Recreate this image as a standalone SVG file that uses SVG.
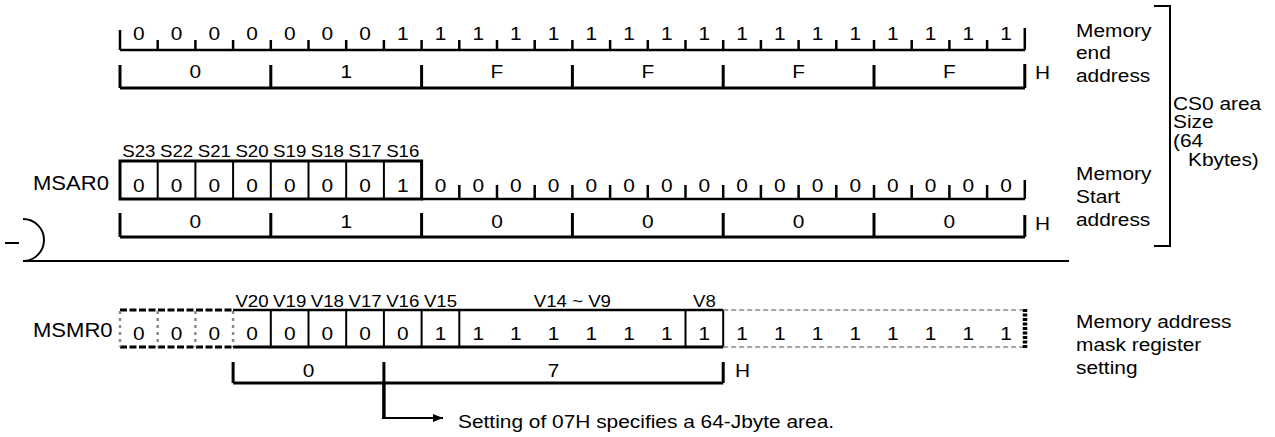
<svg xmlns="http://www.w3.org/2000/svg" width="1275" height="437" viewBox="0 0 1275 437">
<style>
text { font-family: "Liberation Sans", Arial, sans-serif; fill: #000; font-size: 18.5px; transform-box: fill-box; }
.m { text-anchor: middle; transform-origin: center; transform: scaleX(1.13); }
.s { text-anchor: start; transform-origin: left center; transform: scaleX(1.13); }
.lab { font-size: 16.5px; }
.reg { font-size: 19.5px; }
.ln { stroke: #000; fill: none; }
.w2 { stroke-width: 2; }
.w25 { stroke-width: 2.5; }
.w3 { stroke-width: 3; }
.dblk { stroke: #000; stroke-width: 3; stroke-dasharray: 7 2.5; fill: none; }
.dgv { stroke: #8a8a8a; stroke-width: 2.5; stroke-dasharray: 3 4; fill: none; }
.dgh { stroke: #888; stroke-width: 1.5; stroke-dasharray: 5 3; fill: none; }
.dend { stroke: #000; stroke-width: 4.5; stroke-dasharray: 3 1.5; fill: none; }
</style>
<defs>
<marker id="ah" viewBox="0 0 10 8" refX="10" refY="4" markerWidth="5" markerHeight="4" markerUnits="strokeWidth" orient="auto">
<path d="M0,0 L10,4 L0,8 z" fill="#000"/>
</marker>
</defs>

<g id="end-address">
<path class="ln w25" d="M120,50 H1025 M120,30 V50 M1024.8,28 V50
M157.7,40 V50 M195.4,40 V50 M233.1,40 V50 M270.8,40 V50 M308.5,40 V50 M346.2,40 V50 M383.9,40 V50 M421.6,40 V50 M459.3,40 V50 M497,40 V50 M534.7,40 V50 M572.4,40 V50 M610.1,40 V50 M647.8,40 V50 M685.5,40 V50 M723.2,40 V50 M760.9,40 V50 M798.6,40 V50 M836.3,40 V50 M874,40 V50 M911.7,40 V50 M949.4,40 V50 M987.1,40 V50"/>
<g>
<text class="m" x="138.9" y="40">0</text><text class="m" x="176.6" y="40">0</text><text class="m" x="214.3" y="40">0</text><text class="m" x="252" y="40">0</text><text class="m" x="289.7" y="40">0</text><text class="m" x="327.4" y="40">0</text><text class="m" x="365.1" y="40">0</text><text class="m" x="402.8" y="40">1</text><text class="m" x="440.5" y="40">1</text><text class="m" x="478.2" y="40">1</text><text class="m" x="515.9" y="40">1</text><text class="m" x="553.6" y="40">1</text><text class="m" x="591.3" y="40">1</text><text class="m" x="629" y="40">1</text><text class="m" x="666.7" y="40">1</text><text class="m" x="704.4" y="40">1</text><text class="m" x="742.1" y="40">1</text><text class="m" x="779.8" y="40">1</text><text class="m" x="817.5" y="40">1</text><text class="m" x="855.2" y="40">1</text><text class="m" x="892.9" y="40">1</text><text class="m" x="930.6" y="40">1</text><text class="m" x="968.3" y="40">1</text><text class="m" x="1006" y="40">1</text>
</g>
<path class="ln w3" d="M120,88 H1025 M120,65 V88 M270.8,65 V88 M421.6,65 V88 M572.4,65 V88 M723.2,65 V88 M874,65 V88 M1024.8,64 V88"/>
<text class="m" x="195.4" y="78">0</text><text class="m" x="346.2" y="78">1</text><text class="m" x="497" y="78">F</text><text class="m" x="647.8" y="78">F</text><text class="m" x="798.6" y="78">F</text><text class="m" x="949.4" y="78">F</text>
<text class="s" x="1035" y="79">H</text>
<text class="s" x="1076" y="37">Memory</text>
<text class="s" x="1076" y="59.5">end</text>
<text class="s" x="1076" y="82">address</text>
</g>

<g id="msar0">
<text class="s reg" x="33" y="190.5">MSAR0</text>
<text class="m lab" x="138.9" y="157">S23</text><text class="m lab" x="176.6" y="157">S22</text><text class="m lab" x="214.3" y="157">S21</text><text class="m lab" x="252" y="157">S20</text><text class="m lab" x="289.7" y="157">S19</text><text class="m lab" x="327.4" y="157">S18</text><text class="m lab" x="365.1" y="157">S17</text><text class="m lab" x="402.8" y="157">S16</text>
<rect class="ln w3" x="120" y="161" width="301.6" height="38"/>
<path class="ln w2" d="M157.7,161 V199 M195.4,161 V199 M233.1,161 V199 M270.8,161 V199 M308.5,161 V199 M346.2,161 V199 M383.9,161 V199"/>
<path class="ln w25" d="M421.6,199 H1025 M1024.8,180 V199
M459.3,185 V199 M497,185 V199 M534.7,185 V199 M572.4,185 V199 M610.1,185 V199 M647.8,185 V199 M685.5,185 V199 M723.2,185 V199 M760.9,185 V199 M798.6,185 V199 M836.3,185 V199 M874,185 V199 M911.7,185 V199 M949.4,185 V199 M987.1,185 V199"/>
<text class="m" x="138.9" y="192">0</text><text class="m" x="176.6" y="192">0</text><text class="m" x="214.3" y="192">0</text><text class="m" x="252" y="192">0</text><text class="m" x="289.7" y="192">0</text><text class="m" x="327.4" y="192">0</text><text class="m" x="365.1" y="192">0</text><text class="m" x="402.8" y="192">1</text><text class="m" x="440.5" y="192">0</text><text class="m" x="478.2" y="192">0</text><text class="m" x="515.9" y="192">0</text><text class="m" x="553.6" y="192">0</text><text class="m" x="591.3" y="192">0</text><text class="m" x="629" y="192">0</text><text class="m" x="666.7" y="192">0</text><text class="m" x="704.4" y="192">0</text><text class="m" x="742.1" y="192">0</text><text class="m" x="779.8" y="192">0</text><text class="m" x="817.5" y="192">0</text><text class="m" x="855.2" y="192">0</text><text class="m" x="892.9" y="192">0</text><text class="m" x="930.6" y="192">0</text><text class="m" x="968.3" y="192">0</text><text class="m" x="1006" y="192">0</text>
<path class="ln w3" d="M120,237 H1025 M120,213 V237 M270.8,213 V237 M421.6,213 V237 M572.4,213 V237 M723.2,213 V237 M874,213 V237 M1024.8,215 V237"/>
<text class="m" x="195.4" y="228">0</text><text class="m" x="346.2" y="228">1</text><text class="m" x="497" y="228">0</text><text class="m" x="647.8" y="228">0</text><text class="m" x="798.6" y="228">0</text><text class="m" x="949.4" y="228">0</text>
<text class="s" x="1035" y="230">H</text>
<text class="s" x="1076" y="180">Memory</text>
<text class="s" x="1076" y="203">Start</text>
<text class="s" x="1076" y="226">address</text>
</g>

<g id="cs0-size">
<text class="s" x="1173" y="110">CS0 area</text>
<text class="s" x="1173" y="128.5">Size</text>
<text class="s" x="1173" y="147">(64</text>
<text class="s" x="1188" y="166">Kbytes)</text>
</g>

<g id="msmr0">
<text class="s reg" x="33" y="337">MSMR0</text>
<text class="m lab" x="252" y="307">V20</text><text class="m lab" x="289.7" y="307">V19</text><text class="m lab" x="327.4" y="307">V18</text><text class="m lab" x="365.1" y="307">V17</text><text class="m lab" x="402.8" y="307">V16</text><text class="m lab" x="440.5" y="307">V15</text><text class="m lab" x="572.4" y="307">V14 ~ V9</text><text class="m lab" x="704.4" y="307">V8</text>
<path class="dblk" d="M120,310 H233.1 M120,347 H233.1"/>
<path class="dgv" d="M120,311 V347 M157.7,311 V347 M195.4,311 V347 M233.1,311 V347"/>
<path class="ln w25" d="M233.1,310 H723.2"/>
<path class="ln w3" d="M233.1,347 H723.2"/>
<path class="ln w2" d="M270.8,310 V347 M308.5,310 V347 M346.2,310 V347 M383.9,310 V347 M421.6,310 V347 M459.3,310 V347 M685.5,310 V347 M723.2,310 V347"/>
<path class="dgh" d="M723.2,310 H1025 M723.2,347 H1025"/>
<path class="dend" d="M1025,309 V348"/>
<text class="m" x="138.9" y="340">0</text><text class="m" x="176.6" y="340">0</text><text class="m" x="214.3" y="340">0</text><text class="m" x="252" y="340">0</text><text class="m" x="289.7" y="340">0</text><text class="m" x="327.4" y="340">0</text><text class="m" x="365.1" y="340">0</text><text class="m" x="402.8" y="340">0</text><text class="m" x="440.5" y="340">1</text><text class="m" x="478.2" y="340">1</text><text class="m" x="515.9" y="340">1</text><text class="m" x="553.6" y="340">1</text><text class="m" x="591.3" y="340">1</text><text class="m" x="629" y="340">1</text><text class="m" x="666.7" y="340">1</text><text class="m" x="704.4" y="340">1</text><text class="m" x="742.1" y="340">1</text><text class="m" x="779.8" y="340">1</text><text class="m" x="817.5" y="340">1</text><text class="m" x="855.2" y="340">1</text><text class="m" x="892.9" y="340">1</text><text class="m" x="930.6" y="340">1</text><text class="m" x="968.3" y="340">1</text><text class="m" x="1006" y="340">1</text>
<path class="ln w3" d="M233.1,383 H723.2 M233.1,362 V383 M383.9,362 V383 M723.2,362 V383"/>
<text class="m" x="308.5" y="377">0</text><text class="m" x="553.6" y="377">7</text>
<text class="s" x="735" y="377">H</text>
<text class="s" x="1076" y="328">Memory address</text>
<text class="s" x="1076" y="351">mask register</text>
<text class="s" x="1076" y="374">setting</text>
</g>

<g id="note">
<text class="s" x="458" y="428">Setting of 07H specifies a 64-Jbyte area.</text>
</g>

<g id="connectors">
<path class="ln w2" d="M1154,6 H1170 V246 H1154"/>
<path class="ln w2" d="M5,243 H19 M23,219 A21,21 0 0 1 23,261 H1069"/>
<path class="ln" stroke-width="3.5" d="M383.9,383 V419"/>
<path class="ln w2" d="M382.2,418 H443" marker-end="url(#ah)"/>
</g>
</svg>
